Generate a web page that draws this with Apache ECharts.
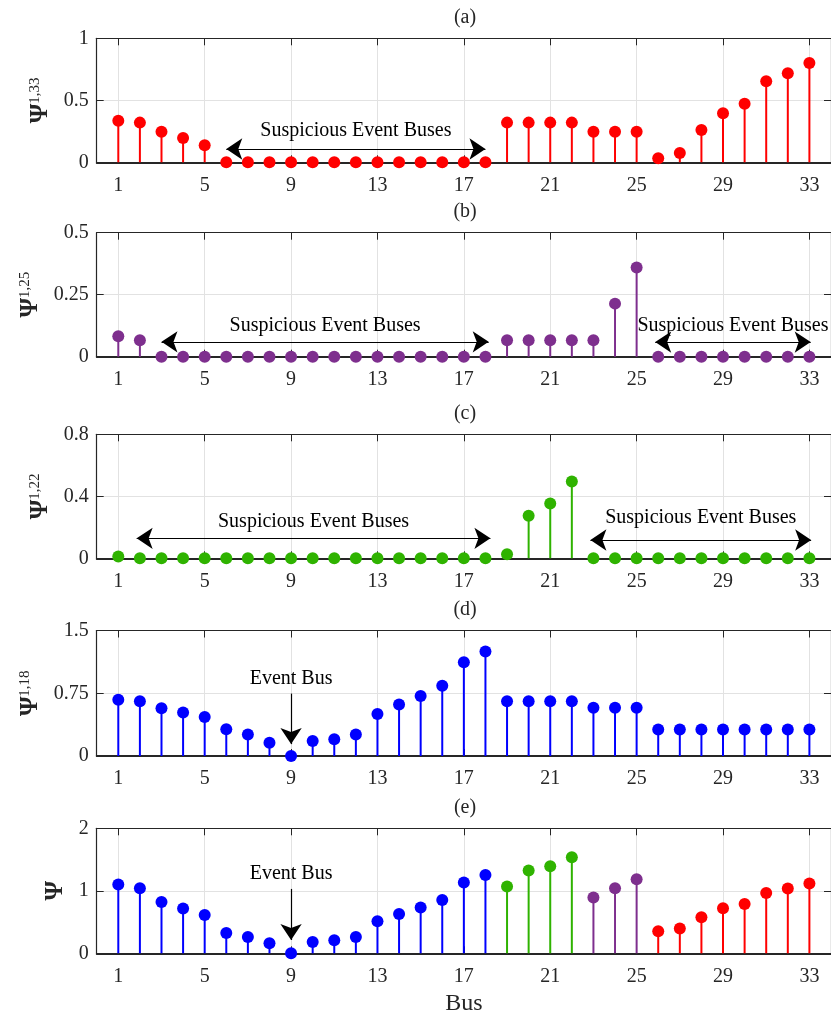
<!DOCTYPE html>
<html>
<head>
<meta charset="utf-8">
<script src="https://cdn.jsdelivr.net/npm/echarts@6/dist/echarts.min.js"></script>
<style>
  html, body { margin: 0; padding: 0; background: #ffffff; }
  #chart { width: 831px; height: 1017px; }
</style>
</head>
<body>
<div id="chart"></div>
<script>
// ---- data -------------------------------------------------------------
const buses = [1, 2, 3, 4, 5, 6, 7, 8, 9, 10, 11, 12, 13, 14, 15, 16, 17,
  18, 19, 20, 21, 22, 23, 24, 25, 26, 27, 28, 29, 30, 31, 32, 33];
const xTicks = [1, 5, 9, 13, 17, 21, 25, 29, 33];

// Psi^{1,33}
const psi133 = [0.336, 0.32, 0.247, 0.196, 0.137, 0, 0, 0, 0, 0, 0, 0, 0, 0, 0, 0, 0, 0,
  0.32, 0.32, 0.32, 0.32, 0.247, 0.247, 0.247, 0.032, 0.075, 0.26, 0.395, 0.473, 0.653, 0.718, 0.80];
// Psi^{1,25}
const psi125 = [0.082, 0.066, 0, 0, 0, 0, 0, 0, 0, 0, 0, 0, 0, 0, 0, 0, 0, 0,
  0.066, 0.066, 0.066, 0.066, 0.066, 0.214, 0.36, 0, 0, 0, 0, 0, 0, 0, 0];
// Psi^{1,22}
const psi122 = [0.011, 0, 0, 0, 0, 0, 0, 0, 0, 0, 0, 0, 0, 0, 0, 0, 0, 0,
  0.026, 0.275, 0.354, 0.496, 0, 0, 0, 0, 0, 0, 0, 0, 0, 0, 0];
// Psi^{1,18}
const psi118 = [0.671, 0.655, 0.572, 0.521, 0.466, 0.32, 0.257, 0.158, 0, 0.178, 0.2, 0.257,
  0.501, 0.616, 0.718, 0.841, 1.121, 1.248, 0.655, 0.655, 0.655, 0.655, 0.576, 0.576, 0.576,
  0.316, 0.316, 0.316, 0.316, 0.316, 0.316, 0.316, 0.316];
// Psi (combined index)
const psiTotal = [1.099, 1.04, 0.821, 0.715, 0.613, 0.325, 0.261, 0.16, 0, 0.181, 0.208, 0.261,
  0.512, 0.629, 0.731, 0.853, 1.131, 1.253, 1.067, 1.323, 1.392, 1.536, 0.891, 1.04, 1.184,
  0.352, 0.395, 0.576, 0.72, 0.789, 0.965, 1.035, 1.115];

// bus ranges of the combined index and the sub-index each range comes from
const totalSegments = [
  { from: 1, to: 18, source: '1,18' },
  { from: 19, to: 22, source: '1,22' },
  { from: 23, to: 25, source: '1,25' },
  { from: 26, to: 33, source: '1,33' }
];

const panelTitles = ['(a)', '(b)', '(c)', '(d)', '(e)'];
const yIndexNames = ['1,33', '1,25', '1,22', '1,18', ''];
const yMax = [1, 0.5, 0.8, 1.5, 2];
const yStep = [0.5, 0.25, 0.4, 0.75, 1];

// ---- styling / layout ---------------------------------------------------
const FONT = 'Liberation Serif';
const AX = '#262626';
const GRID_COLOR = '#e2e2e2';
const colorOf = { '1,33': '#ff0000', '1,25': '#7e2f8e', '1,22': '#2fb300', '1,18': '#0000ff' };

const LEFT = 96.7, WIDTH = 736.7;
const layout = [
  { top: 38.3, height: 124, nameGap: 42 },
  { top: 232.7, height: 124, nameGap: 52 },
  { top: 434.3, height: 124, nameGap: 42 },
  { top: 630.5, height: 125.5, nameGap: 52 },
  { top: 828.3, height: 125, nameGap: 24 }
];

// annotation arrows (in data units of each panel)
const annotations = [
  [{ from: [6, 0.107], to: [18, 0.107], text: 'Suspicious Event Buses', both: true, dist: 8 }],
  [{ from: [3, 0.06], to: [18.15, 0.06], text: 'Suspicious Event Buses', both: true, dist: 6 },
   { from: [25.86, 0.059], to: [33.06, 0.059], text: 'Suspicious Event Buses', both: true, dist: 6 }],
  [{ from: [1.85, 0.129], to: [18.23, 0.129], text: 'Suspicious Event Buses', both: true, dist: 7 },
   { from: [22.86, 0.118], to: [33.08, 0.118], text: 'Suspicious Event Buses', both: true, dist: 12 }],
  [{ from: [9, 0.746], to: [9, 0.142], text: 'Event Bus', both: false, dist: 5 }],
  [{ from: [9, 1.03], to: [9, 0.213], text: 'Event Bus', both: false, dist: 5 }]
];

const panelValues = [psi133, psi125, psi122, psi118];
const panelSource = ['1,33', '1,25', '1,22', '1,18'];

const grids = [], xAxes = [], yAxes = [], series = [], graphics = [];

function stemSeries(idx, points, color, notes) {
  const axisIdx = 2 * idx;
  const list = [{
    type: 'custom',
    xAxisIndex: axisIdx, yAxisIndex: axisIdx,
    data: points,
    clip: false,
    z: 3,
    silent: true,
    renderItem: function (params, api) {
      const p0 = api.coord([api.value(0), 0]);
      const p1 = api.coord([api.value(0), api.value(1)]);
      return {
        type: 'line',
        shape: { x1: p0[0], y1: p0[1], x2: p1[0], y2: p1[1] },
        style: { stroke: color, lineWidth: 2 }
      };
    }
  }, {
    type: 'scatter',
    xAxisIndex: axisIdx, yAxisIndex: axisIdx,
    data: points,
    symbol: 'circle',
    symbolSize: 12,
    clip: false,
    z: 4,
    silent: true,
    itemStyle: { color: color, opacity: 1 }
  }];
  if (notes && notes.length) {
    list[1].markLine = {
      silent: true,
      animation: false,
      precision: 4,
      lineStyle: { color: '#000000', width: 1.2, type: 'solid' },
      data: notes.map(n => [{
        coord: n.from,
        symbol: n.both ? 'arrow' : 'none',
        symbolSize: 16,
        label: {
          show: true,
          formatter: n.text,
          position: n.both ? 'middle' : 'start',
          distance: n.dist,
          color: '#000000',
          fontFamily: FONT,
          fontSize: 20
        }
      }, {
        coord: n.to,
        symbol: 'arrow',
        symbolSize: 16
      }])
    };
  }
  return list;
}

for (let i = 0; i < 5; i++) {
  const L = layout[i];
  grids.push({ left: LEFT, top: L.top, width: WIDTH, height: L.height, containLabel: false });

  // bottom and top x-axes (box frame)
  xAxes.push({
    gridIndex: i, type: 'value', min: 0, max: 34, position: 'bottom',
    axisLine: { show: true, onZero: false, lineStyle: { color: AX, width: 1.8 } },
    axisTick: { show: true, inside: true, length: 7, customValues: xTicks, lineStyle: { color: AX, width: 1 } },
    axisLabel: { show: true, customValues: xTicks, fontSize: 20, fontFamily: FONT, color: AX, margin: 13 },
    splitLine: { show: true, lineStyle: { color: GRID_COLOR, width: 1 } },
    name: i === 4 ? 'Bus' : '',
    nameLocation: 'middle', nameGap: 38,
    nameTextStyle: { fontSize: 24, fontFamily: FONT, color: AX }
  });
  xAxes.push({
    gridIndex: i, type: 'value', min: 0, max: 34, position: 'top',
    axisLine: { show: true, onZero: false, lineStyle: { color: AX, width: 1.2 } },
    axisTick: { show: true, inside: true, length: 7, customValues: xTicks, lineStyle: { color: AX, width: 1 } },
    axisLabel: { show: false },
    splitLine: { show: false }
  });

  const nameText = yIndexNames[i] ? '{p|Ψ}{s|' + yIndexNames[i] + '}' : '{p|Ψ}';
  yAxes.push({
    gridIndex: i, type: 'value', min: 0, max: yMax[i], interval: yStep[i], position: 'left',
    axisLine: { show: true, onZero: false, lineStyle: { color: AX, width: 1.2 } },
    axisTick: { show: true, inside: true, length: 7, lineStyle: { color: AX, width: 1 } },
    axisLabel: { show: true, fontSize: 20, fontFamily: FONT, color: AX, margin: 8 },
    splitLine: { show: true, lineStyle: { color: GRID_COLOR, width: 1 } },
    name: nameText,
    nameLocation: 'middle', nameRotate: 90, nameGap: L.nameGap,
    nameTextStyle: {
      rich: {
        p: { fontSize: 25, fontFamily: FONT, color: AX, fontWeight: 'bold' },
        s: { fontSize: 15, fontFamily: FONT, color: AX, verticalAlign: 'top' }
      }
    }
  });
  yAxes.push({
    gridIndex: i, type: 'value', min: 0, max: yMax[i], interval: yStep[i], position: 'right',
    axisLine: { show: true, onZero: false, lineStyle: { color: AX, width: 1.2 } },
    axisTick: { show: true, inside: true, length: 7, lineStyle: { color: AX, width: 1 } },
    axisLabel: { show: false },
    splitLine: { show: false }
  });

  graphics.push({
    type: 'text',
    x: LEFT + WIDTH / 2, y: L.top - 21,
    style: {
      text: panelTitles[i], fill: AX, font: '20px "' + FONT + '"',
      textAlign: 'center', textVerticalAlign: 'middle'
    },
    silent: true
  });

  if (i < 4) {
    const pts = buses.map((b, k) => [b, panelValues[i][k]]);
    series.push(...stemSeries(i, pts, colorOf[panelSource[i]], annotations[i]));
  } else {
    totalSegments.forEach((seg, s) => {
      const pts = buses.map((b, k) => [b, psiTotal[k]]).filter(p => p[0] >= seg.from && p[0] <= seg.to);
      series.push(...stemSeries(i, pts, colorOf[seg.source], s === 0 ? annotations[i] : null));
    });
  }
}

const chart = echarts.init(document.getElementById('chart'), null, { renderer: 'canvas' });
chart.setOption({
  animation: false,
  backgroundColor: '#ffffff',
  textStyle: { fontFamily: FONT },
  grid: grids,
  xAxis: xAxes,
  yAxis: yAxes,
  series: series,
  graphic: graphics
});
</script>
</body>
</html>
